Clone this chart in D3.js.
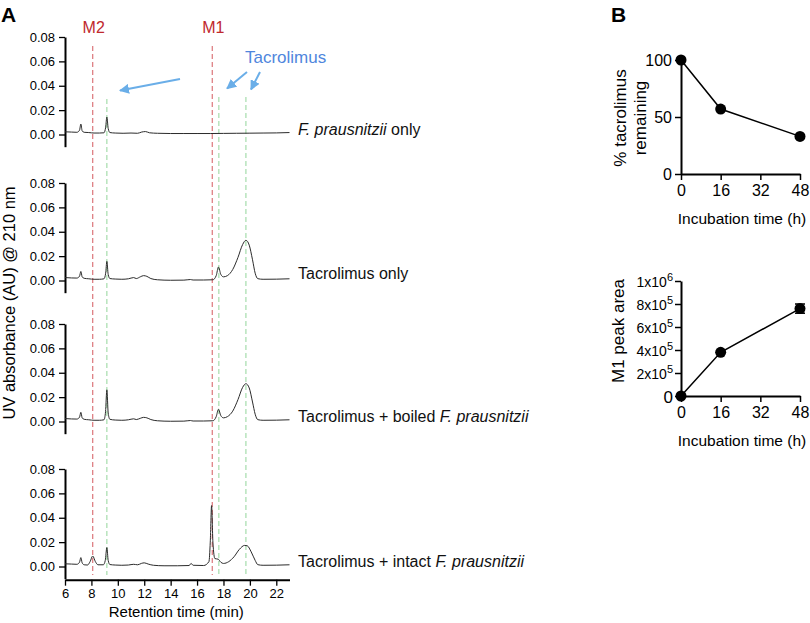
<!DOCTYPE html>
<html>
<head>
<meta charset="utf-8">
<script src="https://cdn.jsdelivr.net/npm/d3@7"></script>
<style>
  html, body { margin: 0; padding: 0; background: #fff; }
  svg { display: block; font-family: "Liberation Sans", Arial, Helvetica, sans-serif; }
</style>
</head>
<body>
<svg id="chart" width="810" height="623"></svg>
<script>
// ---------------- DATA ----------------
// Panel A: chromatograms, [retention time (min), absorbance (AU)]
const traceFpOnly = [[6.0,0.0022],[6.5,0.0020],[6.9,0.0018],[7.1,0.0035],[7.2,0.0086],[7.3,0.0030],[7.45,0.0018],[7.8,0.0016],[8.2,0.0012],[8.6,0.0012],[8.95,0.0014],[9.08,0.0060],[9.17,0.0143],[9.27,0.0050],[9.4,0.0016],[9.8,0.0012],[10.4,0.0010],[11.0,0.0012],[11.5,0.0010],[11.8,0.0020],[12.1,0.0024],[12.4,0.0014],[13.0,0.0010],[14.0,0.0008],[15.0,0.0008],[16.0,0.0008],[17.0,0.0008],[18.0,0.0009],[19.0,0.0010],[20.0,0.0011],[21.0,0.0012],[22.0,0.0013],[23.0,0.0016]];
const traceTacOnly = [[6.0,0.0024],[6.5,0.0021],[6.9,0.0020],[7.1,0.0035],[7.2,0.0074],[7.3,0.0030],[7.45,0.0018],[7.8,0.0014],[8.2,0.0010],[8.6,0.0010],[8.95,0.0014],[9.08,0.0060],[9.17,0.0157],[9.27,0.0050],[9.4,0.0016],[9.8,0.0012],[10.3,0.0010],[10.8,0.0014],[11.2,0.0024],[11.4,0.0016],[11.7,0.0030],[11.95,0.0040],[12.2,0.0034],[12.5,0.0016],[13.0,0.0006],[14.0,0.0002],[15.0,0.0003],[15.5,0.0008],[15.7,0.0004],[16.5,0.0004],[17.2,0.0006],[17.45,0.0040],[17.62,0.0110],[17.8,0.0050],[18.0,0.0030],[18.3,0.0040],[18.7,0.0090],[19.1,0.0190],[19.45,0.0295],[19.7,0.0330],[19.95,0.0290],[20.2,0.0170],[20.4,0.0060],[20.6,0.0015],[21.0,0.0010],[22.0,0.0011],[23.0,0.0014]];
const traceBoiled = [[6.0,0.0024],[6.5,0.0021],[6.9,0.0020],[7.1,0.0035],[7.2,0.0075],[7.3,0.0030],[7.45,0.0018],[7.8,0.0014],[8.2,0.0010],[8.6,0.0010],[8.95,0.0014],[9.07,0.0080],[9.17,0.0260],[9.27,0.0070],[9.4,0.0018],[9.8,0.0012],[10.3,0.0010],[10.8,0.0014],[11.2,0.0022],[11.4,0.0016],[11.7,0.0026],[11.95,0.0034],[12.2,0.0030],[12.5,0.0016],[13.0,0.0006],[14.0,0.0002],[15.0,0.0003],[15.5,0.0008],[15.7,0.0004],[16.5,0.0004],[17.2,0.0006],[17.45,0.0040],[17.62,0.0100],[17.8,0.0048],[18.0,0.0030],[18.3,0.0040],[18.7,0.0085],[19.1,0.0180],[19.45,0.0280],[19.7,0.0310],[19.95,0.0275],[20.2,0.0160],[20.4,0.0060],[20.6,0.0015],[21.0,0.0010],[22.0,0.0011],[23.0,0.0014]];
const traceIntact = [[6.0,0.0022],[6.5,0.0020],[6.9,0.0018],[7.1,0.0035],[7.2,0.0073],[7.3,0.0030],[7.45,0.0014],[7.7,0.0012],[7.9,0.0040],[8.1,0.0086],[8.3,0.0040],[8.5,0.0014],[8.9,0.0014],[9.05,0.0050],[9.17,0.0155],[9.27,0.0050],[9.4,0.0016],[9.8,0.0012],[10.3,0.0010],[10.8,0.0012],[11.2,0.0018],[11.5,0.0014],[11.8,0.0026],[12.0,0.0030],[12.3,0.0020],[12.7,0.0010],[13.5,0.0006],[14.5,0.0006],[15.4,0.0008],[15.55,0.0025],[15.7,0.0010],[16.5,0.0008],[16.9,0.0040],[17.0,0.0200],[17.1,0.0500],[17.2,0.0200],[17.35,0.0065],[17.6,0.0060],[17.8,0.0035],[18.0,0.0025],[18.4,0.0040],[18.8,0.0080],[19.2,0.0140],[19.6,0.0173],[19.8,0.0170],[20.1,0.0120],[20.4,0.0050],[20.6,0.0015],[21.0,0.0010],[22.0,0.0011],[23.0,0.0014]];
const traceNames = ["F. prausnitzii only", "Tacrolimus only", "Tacrolimus + boiled F. prausnitzii", "Tacrolimus + intact F. prausnitzii"];
const absTicks = [0, 0.02, 0.04, 0.06, 0.08];
const timeTicks = [6, 8, 10, 12, 14, 16, 18, 20, 22];
// Marker lines (retention time, min)
const metaboliteLines = [{label: "M2", t: 8.1}, {label: "M1", t: 17.15}];
const tacrolimusLines = [9.17, 17.65, 19.7];

// Panel B
const incubHours = [0, 16, 48];
const pctRemaining = [100, 57, 33];
const m1Area = [0, 380000, 760000];
const m1AreaErr = [0, 0, 40000];
const hourTicks = [0, 16, 32, 48];
const pctTicks = [0, 50, 100];
const areaTicks = [{v: 0, base: "0", exp: ""}, {v: 200000, base: "2x10", exp: "5"}, {v: 400000, base: "4x10", exp: "5"}, {v: 600000, base: "6x10", exp: "5"}, {v: 800000, base: "8x10", exp: "5"}, {v: 1000000, base: "1x10", exp: "6"}];

// ---------------- DRAW ----------------
const svg = d3.select("#chart");
const traces = [traceFpOnly, traceTacOnly, traceBoiled, traceIntact];
const panelTops = [37, 183, 324, 469];
const span008 = 97.5;

const xA = d3.scaleLinear().domain([6, 23]).range([65, 289.5]);
const yScales = panelTops.map(t => d3.scaleLinear().domain([-0.01, 0.08]).range([t + span008 * 0.09 / 0.08, t]));

// Panel letters
svg.append("text").attr("x", 1).attr("y", 22).attr("font-size", 21).attr("font-weight", "bold").text("A");
svg.append("text").attr("x", 611).attr("y", 22).attr("font-size", 21).attr("font-weight", "bold").text("B");

// Dashed marker lines
const yLinesBottom = 575;
metaboliteLines.forEach(m => {
  svg.append("line").attr("x1", xA(m.t)).attr("x2", xA(m.t)).attr("y1", 46).attr("y2", yLinesBottom)
    .attr("stroke", "#d9696e").attr("stroke-width", 1.1).attr("stroke-dasharray", "5,3");
  svg.append("text").attr("x", xA(m.t) + 1).attr("y", 33).attr("text-anchor", "middle")
    .attr("font-size", 16).attr("fill", "#c0282d").text(m.label);
});
tacrolimusLines.forEach((t, i) => {
  svg.append("line").attr("x1", xA(t)).attr("x2", xA(t)).attr("y1", i === 0 ? 99 : 97).attr("y2", yLinesBottom)
    .attr("stroke", "#9dd9a4").attr("stroke-width", 1.1).attr("stroke-dasharray", "5,3");
});

// Tacrolimus annotation + arrows
const defs = svg.append("defs");
defs.append("marker").attr("id", "ah").attr("viewBox", "0 0 10 10").attr("refX", 9).attr("refY", 5)
  .attr("markerWidth", 5).attr("markerHeight", 5).attr("orient", "auto-start-reverse")
  .append("path").attr("d", "M0,0 L10,5 L0,10 z").attr("fill", "#6aaee8");
svg.append("text").attr("x", 245).attr("y", 63).attr("font-size", 17).attr("fill", "#4f86dd").text("Tacrolimus");
[[180, 79, 120, 90.5], [247, 72, 227, 88.5], [260, 72, 251, 89.5]].forEach(a => {
  svg.append("line").attr("x1", a[0]).attr("y1", a[1]).attr("x2", a[2]).attr("y2", a[3])
    .attr("stroke", "#6aaee8").attr("stroke-width", 2).attr("marker-end", "url(#ah)");
});

// Chromatogram panels
const line = (y) => d3.line().x(d => xA(d[0])).y(d => y(d[1])).curve(d3.curveMonotoneX);
traces.forEach((tr, i) => {
  const y = yScales[i];
  const ax = svg.append("g").attr("transform", `translate(${xA(6)},0)`)
    .call(d3.axisLeft(y).tickValues(absTicks).tickFormat(d3.format(".2f")).tickSize(6).tickSizeOuter(0));
  ax.select(".domain").attr("stroke-width", 2);
  ax.selectAll(".tick line").attr("stroke-width", 1.3);
  ax.selectAll("text").attr("font-size", 13).attr("font-family", "Liberation Sans, Arial, sans-serif").attr("dx", "-1");
  svg.append("path").datum(tr).attr("d", line(y)).attr("fill", "none")
    .attr("stroke", "#2b2b2b").attr("stroke-width", 1);
  // trace label
  const lab = svg.append("text").attr("x", 298).attr("y", y(0) + (i === 1 ? -2 : 0)).attr("font-size", 16).attr("fill", "#111");
  const name = traceNames[i];
  const idx = name.indexOf("F. prausnitzii");
  if (idx >= 0) {
    if (idx > 0) lab.append("tspan").text(name.slice(0, idx));
    lab.append("tspan").attr("font-style", "italic").text("F. prausnitzii");
    const rest = name.slice(idx + "F. prausnitzii".length);
    if (rest) lab.append("tspan").text(rest);
  } else {
    lab.text(name);
  }
});

// Bottom x-axis for panel A
const xAxisY = yScales[3](-0.01) + 1;
const bx = svg.append("g").attr("transform", `translate(0,${xAxisY})`)
  .call(d3.axisBottom(xA).tickValues(timeTicks).tickSize(6).tickSizeOuter(0));
bx.select(".domain").attr("stroke-width", 2);
bx.selectAll(".tick line").attr("stroke-width", 1.3);
bx.selectAll("text").attr("font-size", 13).attr("font-family", "Liberation Sans, Arial, sans-serif");
svg.append("text").attr("x", (xA(6) + xA(23)) / 2 - 1).attr("y", 617).attr("text-anchor", "middle")
  .attr("font-size", 15).text("Retention time (min)");

// Y title panel A
svg.append("text").attr("transform", "translate(15,303) rotate(-90)").attr("text-anchor", "middle")
  .attr("font-size", 16.5).text("UV absorbance (AU) @ 210 nm");

// ---------------- Panel B ----------------
const xB = d3.scaleLinear().domain([0, 48]).range([681, 800]);
const yB1 = d3.scaleLinear().domain([0, 100]).range([174, 60]);
const yB2 = d3.scaleLinear().domain([0, 1000000]).range([396, 281]);

function styleAxis(g, fs) {
  g.select(".domain").attr("stroke-width", 2);
  g.selectAll(".tick line").attr("stroke-width", 1.5);
  g.selectAll("text").attr("font-size", fs).attr("font-family", "Liberation Sans, Arial, sans-serif");
}

// top chart
let g = svg.append("g").attr("transform", `translate(${xB(0)},0)`)
  .call(d3.axisLeft(yB1).tickValues(pctTicks).tickSize(6).tickSizeOuter(0));
styleAxis(g, 16);
g = svg.append("g").attr("transform", `translate(0,${yB1(0)})`)
  .call(d3.axisBottom(xB).tickValues(hourTicks).tickSize(6).tickSizeOuter(0).tickPadding(5));
styleAxis(g, 16);
svg.append("text").attr("x", 742).attr("y", 224).attr("text-anchor", "middle").attr("font-size", 15.5).text("Incubation time (h)");
const t1 = svg.append("text").attr("transform", "translate(626,118) rotate(-90)").attr("text-anchor", "middle").attr("font-size", 17);
t1.append("tspan").attr("x", 0).attr("dy", 0).text("% tacrolimus");
t1.append("tspan").attr("x", 0).attr("dy", 20).text("remaining");

const pts1 = incubHours.map((h, i) => [h, pctRemaining[i]]);
svg.append("path").datum(pts1).attr("d", d3.line().x(d => xB(d[0])).y(d => yB1(d[1])))
  .attr("fill", "none").attr("stroke", "#000").attr("stroke-width", 1.5);
svg.selectAll(".p1").data(pts1).enter().append("circle")
  .attr("cx", d => xB(d[0])).attr("cy", d => yB1(d[1])).attr("r", 5.5).attr("fill", "#000");

// bottom chart
g = svg.append("g").attr("transform", `translate(${xB(0)},0)`)
  .call(d3.axisLeft(yB2).tickValues(areaTicks.map(d => d.v)).tickSize(6).tickSizeOuter(0).tickFormat(""));
styleAxis(g, 14);
g.selectAll(".tick").each(function(v) {
  const info = areaTicks.find(d => d.v === v);
  const txt = d3.select(this).append("text").attr("x", -8).attr("dy", info.exp ? "0.42em" : "0.36em")
    .attr("text-anchor", "end").attr("fill", "#000").attr("font-family", "Liberation Sans, Arial, sans-serif")
    .attr("font-size", info.exp ? 14 : 17);
  txt.append("tspan").text(info.base);
  if (info.exp) txt.append("tspan").attr("dy", "-0.55em").attr("font-size", 11).text(info.exp);
});
g = svg.append("g").attr("transform", `translate(0,${yB2(0)})`)
  .call(d3.axisBottom(xB).tickValues(hourTicks).tickSize(6).tickSizeOuter(0).tickPadding(5));
styleAxis(g, 16);
svg.append("text").attr("x", 742).attr("y", 446).attr("text-anchor", "middle").attr("font-size", 15.5).text("Incubation time (h)");
svg.append("text").attr("transform", "translate(624,331) rotate(-90)").attr("text-anchor", "middle")
  .attr("font-size", 17).text("M1 peak area");

const pts2 = incubHours.map((h, i) => [h, m1Area[i], m1AreaErr[i]]);
svg.append("path").datum(pts2).attr("d", d3.line().x(d => xB(d[0])).y(d => yB2(d[1])))
  .attr("fill", "none").attr("stroke", "#000").attr("stroke-width", 1.5);
pts2.filter(d => d[2] > 0).forEach(d => {
  const x = xB(d[0]);
  svg.append("line").attr("x1", x).attr("x2", x).attr("y1", yB2(d[1] - d[2])).attr("y2", yB2(d[1] + d[2])).attr("stroke", "#000").attr("stroke-width", 1.5);
  [d[1] - d[2], d[1] + d[2]].forEach(v => svg.append("line").attr("x1", x - 5).attr("x2", x + 5)
    .attr("y1", yB2(v)).attr("y2", yB2(v)).attr("stroke", "#000").attr("stroke-width", 1.5));
});
svg.selectAll(".p2").data(pts2).enter().append("circle")
  .attr("cx", d => xB(d[0])).attr("cy", d => yB2(d[1])).attr("r", 5.5).attr("fill", "#000");
</script>
</body>
</html>
